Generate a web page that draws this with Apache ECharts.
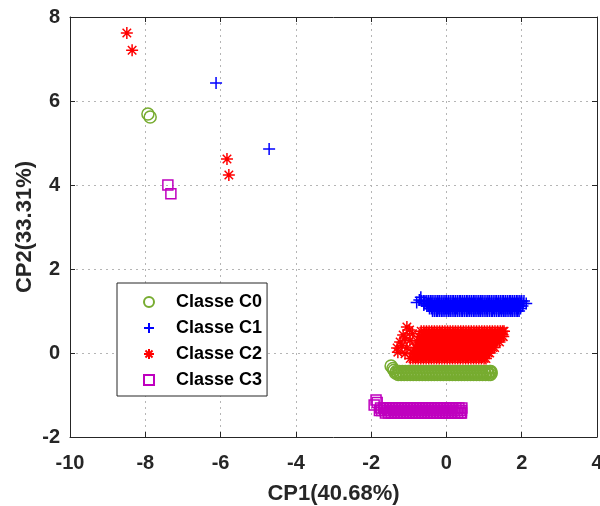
<!DOCTYPE html>
<html><head><meta charset="utf-8">
<script src="https://cdn.jsdelivr.net/npm/echarts@6/dist/echarts.min.js"></script>
<style>html,body{margin:0;padding:0;background:#fff}#chart{width:600px;height:506px}</style>
</head><body><div id="chart"></div>
<script>
// ---------- axes ----------
const xRange = [-10, 4];
const yRange = [-2, 8];
const tickStep = 2;
const xTitle = 'CP1(40.68%)';
const yTitle = 'CP2(33.31%)';
const classNames = ['Classe C0', 'Classe C1', 'Classe C2', 'Classe C3'];

// ---------- Classe C0 (circles) ----------
const c0Isolated = [[-7.93, 5.69], [-7.87, 5.62], [-1.47, -0.31], [-1.42, -0.37], [-1.39, -0.41]];
const c0RowY = [-0.44, -0.475, -0.51];
const c0RowX = [
  [-1.33,-1.25,-1.17,-1.09,-1.01,-0.93,-0.85,-0.77,-0.69,-0.61,-0.53,-0.45,-0.37,-0.29,-0.21,-0.13,-0.05,0.03,0.11,0.19,0.27,0.35,0.43,0.51,0.59,0.67,0.75,0.83,0.91,0.99,1.07,1.15,1.18],
  [-1.35,-1.30,-1.22,-1.14,-1.06,-0.98,-0.90,-0.82,-0.74,-0.66,-0.58,-0.50,-0.42,-0.34,-0.26,-0.18,-0.10,-0.02,0.06,0.14,0.22,0.30,0.38,0.46,0.54,0.62,0.70,0.78,0.86,0.94,1.02,1.10,1.19],
  [-1.28,-1.20,-1.12,-1.04,-0.96,-0.88,-0.80,-0.72,-0.64,-0.56,-0.48,-0.40,-0.32,-0.24,-0.16,-0.08,0.00,0.08,0.16,0.24,0.32,0.40,0.48,0.56,0.64,0.72,0.80,0.88,0.96,1.04,1.12,1.17]
];

// ---------- Classe C1 (plus) ----------
const c1Isolated = [[-6.12, 6.43], [-4.71, 4.86], [-0.68, 1.33], [-0.79, 1.20], [-0.60, 1.14], [-0.72, 1.26], [2.12, 1.18], [1.99, 1.22]];
const c1RowY = [1.24, 1.18, 1.12, 1.06, 1.00];
const c1RowX = [
  [-0.66,-0.61,-0.57,-0.52,-0.47,-0.42,-0.38,-0.33,-0.28,-0.23,-0.19,-0.14,-0.09,-0.04,0.00,0.05,0.10,0.15,0.19,0.24,0.29,0.34,0.38,0.43,0.48,0.53,0.57,0.62,0.67,0.72,0.76,0.81,0.86,0.91,0.95,1.00,1.05,1.10,1.14,1.19,1.24,1.29,1.33,1.38,1.43,1.48,1.52,1.57,1.62,1.67,1.71,1.76,1.81,1.86,1.90,1.95,2.00,2.06],
  [-0.59,-0.54,-0.50,-0.45,-0.40,-0.36,-0.31,-0.26,-0.21,-0.17,-0.12,-0.07,-0.02,0.02,0.07,0.12,0.17,0.21,0.26,0.31,0.36,0.40,0.45,0.50,0.55,0.59,0.64,0.69,0.74,0.78,0.83,0.88,0.93,0.97,1.02,1.07,1.12,1.16,1.21,1.26,1.31,1.35,1.40,1.45,1.50,1.54,1.59,1.64,1.69,1.73,1.78,1.83,1.88,1.92,1.97,2.04],
  [-0.52,-0.48,-0.43,-0.38,-0.34,-0.29,-0.24,-0.20,-0.15,-0.10,-0.06,-0.01,0.03,0.08,0.13,0.17,0.22,0.27,0.31,0.36,0.41,0.45,0.50,0.55,0.59,0.64,0.69,0.73,0.78,0.83,0.87,0.92,0.97,1.01,1.06,1.11,1.15,1.20,1.25,1.29,1.34,1.39,1.43,1.48,1.53,1.57,1.62,1.67,1.71,1.76,1.81,1.85,1.90,1.95,2.02],
  [-0.45,-0.40,-0.36,-0.31,-0.26,-0.22,-0.17,-0.12,-0.07,-0.03,0.02,0.07,0.11,0.16,0.21,0.26,0.30,0.35,0.40,0.44,0.49,0.54,0.59,0.63,0.68,0.73,0.77,0.82,0.87,0.92,0.96,1.01,1.06,1.10,1.15,1.20,1.25,1.29,1.34,1.39,1.43,1.48,1.53,1.58,1.62,1.67,1.72,1.76,1.81,1.86,1.91,1.97],
  [-0.37,-0.32,-0.27,-0.23,-0.18,-0.13,-0.09,-0.04,0.01,0.06,0.10,0.15,0.20,0.24,0.29,0.34,0.39,0.43,0.48,0.53,0.57,0.62,0.67,0.72,0.76,0.81,0.86,0.90,0.95,1.00,1.05,1.09,1.14,1.19,1.23,1.28,1.33,1.38,1.42,1.47,1.52,1.56,1.61,1.66,1.71,1.75,1.80,1.85,1.89,1.93]
];

// ---------- Classe C2 (asterisk) ----------
const c2Isolated = [[-8.49, 7.62], [-8.35, 7.21], [-5.83, 4.62], [-5.78, 4.24],
  [-1.05, 0.62], [-0.98, 0.55], [-1.15, 0.43], [-1.10, 0.36], [-1.23, 0.26], [-1.18, 0.18], [-1.31, 0.12], [-1.29, 0.02],
  [-0.90, 0.46], [-0.97, 0.30], [-1.05, 0.12], [-1.10, -0.02]];
const c2RowY = [0.52, 0.39, 0.26, 0.13, 0.00, -0.13];
const c2RowX = [
  [-0.67,-0.60,-0.53,-0.46,-0.39,-0.32,-0.25,-0.18,-0.11,-0.04,0.03,0.10,0.17,0.24,0.31,0.38,0.45,0.52,0.59,0.66,0.73,0.80,0.87,0.94,1.01,1.08,1.15,1.22,1.29,1.36,1.43,1.49,1.53],
  [-0.72,-0.65,-0.58,-0.51,-0.44,-0.37,-0.30,-0.23,-0.16,-0.09,-0.02,0.05,0.12,0.19,0.26,0.33,0.40,0.47,0.54,0.61,0.68,0.75,0.82,0.89,0.96,1.03,1.10,1.17,1.24,1.31,1.38,1.45,1.51],
  [-0.76,-0.69,-0.62,-0.55,-0.48,-0.41,-0.34,-0.27,-0.20,-0.13,-0.06,0.01,0.08,0.15,0.22,0.29,0.36,0.43,0.50,0.57,0.64,0.71,0.78,0.85,0.92,0.99,1.06,1.13,1.20,1.27,1.34,1.41],
  [-0.83,-0.80,-0.73,-0.66,-0.59,-0.52,-0.45,-0.38,-0.31,-0.24,-0.17,-0.10,-0.03,0.04,0.11,0.18,0.25,0.32,0.39,0.46,0.53,0.60,0.67,0.74,0.81,0.88,0.95,1.02,1.09,1.16,1.23,1.28],
  [-0.89,-0.85,-0.78,-0.71,-0.64,-0.57,-0.50,-0.43,-0.36,-0.29,-0.22,-0.15,-0.08,-0.01,0.06,0.13,0.20,0.27,0.34,0.41,0.48,0.55,0.62,0.69,0.76,0.83,0.90,0.97,1.04,1.11,1.15],
  [-0.96,-0.89,-0.82,-0.75,-0.68,-0.61,-0.54,-0.47,-0.40,-0.33,-0.26,-0.19,-0.12,-0.05,0.02,0.09,0.16,0.23,0.30,0.37,0.44,0.51,0.58,0.65,0.72,0.79,0.86,0.93,1.00,1.05]
];

// ---------- Classe C3 (squares) ----------
const c3Isolated = [[-7.40, 4.00], [-7.32, 3.79], [-1.87, -1.12], [-1.92, -1.24], [-1.84, -1.18]];
const c3RowY = [-1.31, -1.37, -1.43];
const c3RowX = [
  [-1.75,-1.67,-1.59,-1.51,-1.43,-1.35,-1.27,-1.19,-1.11,-1.03,-0.95,-0.87,-0.79,-0.71,-0.63,-0.55,-0.47,-0.39,-0.31,-0.23,-0.15,-0.07,0.01,0.09,0.17,0.25,0.33,0.41],
  [-1.78,-1.72,-1.64,-1.56,-1.48,-1.40,-1.32,-1.24,-1.16,-1.08,-1.00,-0.92,-0.84,-0.76,-0.68,-0.60,-0.52,-0.44,-0.36,-0.28,-0.20,-0.12,-0.04,0.04,0.12,0.20,0.28,0.36,0.40],
  [-1.62,-1.54,-1.46,-1.38,-1.30,-1.22,-1.14,-1.06,-0.98,-0.90,-0.82,-0.74,-0.66,-0.58,-0.50,-0.42,-0.34,-0.26,-0.18,-0.10,-0.02,0.06,0.14,0.22,0.30,0.38,0.40]
];

function buildPoints(isolated, rowY, rowX) {
  const pts = isolated.slice();
  rowY.forEach((y, i) => rowX[i].forEach(x => pts.push([x, y])));
  return pts;
}

const FONT = '"Liberation Sans", Arial, sans-serif';
const INK = '#262626';
const PLUS = 'path://M0,-6L0,6M-6,0L6,0';
const STAR = 'path://M0,-6L0,6M-6,0L6,0M-4.24,-4.24L4.24,4.24M-4.24,4.24L4.24,-4.24';
const SQUARE = 'path://M-5,-5L5,-5L5,5L-5,5Z';

const gridLine = {show: true, lineStyle: {color: '#b5b5b5', type: [2, 4], width: 1}};
const frameAxis = {show: true, onZero: false, lineStyle: {color: INK, width: 1}};
const inTick = {show: true, inside: true, length: 5, lineStyle: {color: INK, width: 1}};
const tickFont = {fontFamily: FONT, fontWeight: 'bold', fontSize: 20, color: INK};
const nameFont = {fontFamily: FONT, fontWeight: 'bold', fontSize: 22, color: INK};

function series(name, data, symbol, size, color) {
  return {
    type: 'scatter', name, data, symbol, symbolSize: size, silent: true,
    symbolKeepAspect: true,
    itemStyle: {color: 'rgba(0,0,0,0)', borderColor: color, borderWidth: 1.5, opacity: 1}
  };
}

const chart = echarts.init(document.getElementById('chart'), null, {renderer: 'canvas'});
chart.setOption({
  animation: false,
  backgroundColor: '#fff',
  grid: {left: 70, top: 17, width: 527, height: 420, containLabel: false, outerBoundsMode: 'none'},
  xAxis: [
    {type: 'value', min: xRange[0], max: xRange[1], interval: tickStep, position: 'bottom',
     name: xTitle, nameLocation: 'middle', nameGap: 46, nameMoveOverlap: false, nameTextStyle: nameFont,
     axisLine: frameAxis, axisTick: inTick, axisLabel: Object.assign({margin: 16}, tickFont), splitLine: gridLine},
    {type: 'value', min: xRange[0], max: xRange[1], interval: tickStep, position: 'top',
     axisLine: frameAxis, axisTick: inTick, axisLabel: {show: false}, splitLine: {show: false}}
  ],
  yAxis: [
    {type: 'value', min: yRange[0], max: yRange[1], interval: tickStep, position: 'left',
     name: yTitle, nameLocation: 'middle', nameGap: 34, nameMoveOverlap: false, nameTextStyle: nameFont,
     axisLine: frameAxis, axisTick: inTick, axisLabel: Object.assign({margin: 10}, tickFont), splitLine: gridLine},
    {type: 'value', min: yRange[0], max: yRange[1], interval: tickStep, position: 'right',
     axisLine: frameAxis, axisTick: inTick, axisLabel: {show: false}, splitLine: {show: false}}
  ],
  legend: {
    orient: 'vertical', left: 117, top: 283, padding: [10, 5, 7, 26],
    itemGap: 8, itemWidth: 44, itemHeight: 10, selectedMode: false,
    borderColor: INK, borderWidth: 1, backgroundColor: '#fff',
    textStyle: {fontFamily: FONT, fontWeight: 'bold', fontSize: 18, color: '#000'},
    data: classNames, z: 10
  },
  series: [
    series(classNames[0], buildPoints(c0Isolated, c0RowY, c0RowX), 'circle', 12, '#77AC30'),
    series(classNames[1], buildPoints(c1Isolated, c1RowY, c1RowX), PLUS, 12, '#0000FF'),
    series(classNames[2], buildPoints(c2Isolated, c2RowY, c2RowX), STAR, 12, '#FF0000'),
    series(classNames[3], buildPoints(c3Isolated, c3RowY, c3RowX), SQUARE, 10, '#BF00BF')
  ]
});
</script></body></html>
